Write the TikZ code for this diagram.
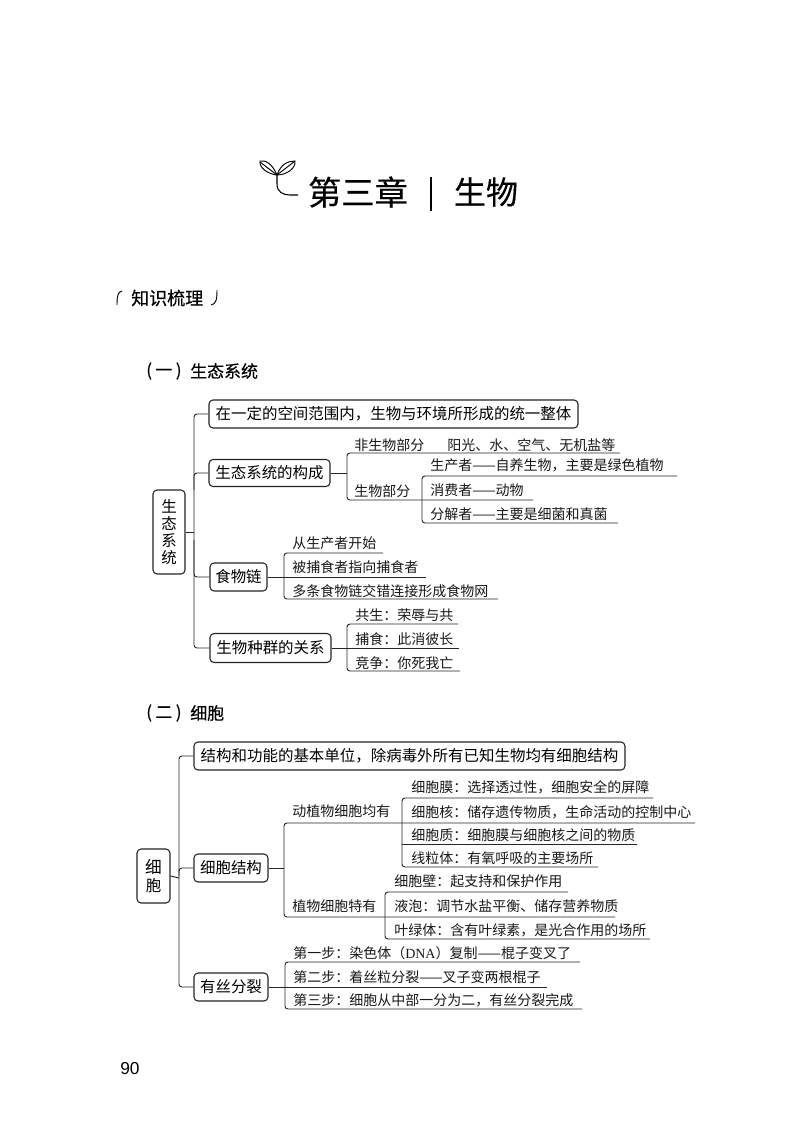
\documentclass[tikz,border=0pt]{standalone}
\usepackage{fontspec}
\setmainfont{Noto Sans CJK SC}
\newfontfamily\numfont{Liberation Sans}
\newfontfamily\serfont{Liberation Serif}
\newfontfamily\hvyfont[FakeBold=0.35]{Noto Sans CJK SC}
\tikzset{
  x=0.75pt,y=-0.75pt,
  conn/.style={line width=0.7pt,black!85},
  rnd/.style={conn,rounded corners=2.2pt},
  bx/.style 2 args={draw=black!85,line width=0.8pt,rounded corners=3pt,inner sep=0pt,align=center,
     minimum width=#1*0.75pt,minimum height=#2*0.75pt,font=\fontsize{11.6}{12.6}\selectfont},
  lab/.style={anchor=west,inner sep=0pt,font=\fontsize{10.5}{12}\selectfont,text=black!90},
  head/.style={anchor=west,inner sep=0pt,font=\hvyfont\fontsize{12.7}{14}\selectfont},
}
\begin{document}
\begin{tikzpicture}
\useasboundingbox (0,0) rectangle (800,1129);
\fill[white] (0,0) rectangle (800,1129);

% ---- title
\node[inner sep=0pt,font=\hvyfont\fontsize{25}{27}\selectfont] (ti1) at (358,192) {第三章};
\node[inner sep=0pt,font=\hvyfont\fontsize{24}{27}\selectfont] (ti2) at (486,192) {生物};
\draw[line width=1.1pt] (431,177) -- (431,211);
% sprout
\draw[line width=0.7pt] (277,175) .. controls (272,163) and (265,160) .. (260,161) .. controls (259,168) and (268,174) .. (277,175)
   .. controls (281,164) and (288,161) .. (295,161) .. controls (296,168) and (287,175) .. (277,175);
\draw[line width=0.7pt] (260,162) -- (277,175) -- (295,161);
\draw[line width=0.8pt] (277,175) -- (277,184) .. controls (277,192) and (283,195) .. (290,195) -- (298,195);

% ---- section heads
\node[head,font=\hvyfont\fontsize{13.5}{15}\selectfont] (kn) at (131,298) {知识梳理};
\draw[line width=0.7pt] (122,291) .. controls (118,292) and (117,295) .. (117,305);
\draw[line width=0.7pt] (217,290) .. controls (217,300) and (216,304) .. (211,305);
\node[head] (s1a) at (146,371) {(\kern2.6pt一\kern2.6pt)};
\node[head] (s1b) at (190,371) {生态系统};
\node[head] (s2a) at (146,713) {(\kern2.6pt二\kern2.6pt)};
\node[head] (s2b) at (190,713) {细胞};
\node[inner sep=0pt,anchor=west,font=\numfont\fontsize{13}{14}\selectfont] (pg) at (120,1069) {90};

% ---- part one boxes
\node[bx={32}{84}] (r1) at (169,532) {生\\态\\系\\统};
\node[bx={369}{28}] (a1) at (393.5,414) {在一定的空间范围内，生物与环境所形成的统一整体};
\node[bx={121}{27}] (a2) at (269.5,473) {生态系统的构成};
\node[bx={57}{28}] (a3) at (238.5,577) {食物链};
\node[bx={121}{29}] (a4) at (270.5,648) {生物种群的关系};

\coordinate (t1) at (194,532);
\draw[rnd] (a1.west) -| (t1) |- (a4.west);
\draw[conn] (r1.east) -- (t1);
\draw[rnd] (194,490) |- (a2.west);
\draw[rnd] (194,540) |- (a3.west);

% non-living / living
\node[lab] at (354,445) {非生物部分};
\node[lab] at (447,445) {阳光、水、空气、无机盐等};
\node[lab] at (354,491) {生物部分};
\node[lab] at (430,465) {生产者——自养生物，主要是绿色植物};
\node[lab] at (430,490) {消费者——动物};
\node[lab] at (430,514) {分解者——主要是细菌和真菌};
\coordinate (b1) at (347,473);
\coordinate (b1t) at (620,453);
\coordinate (b1b) at (533,500);
\draw[conn] (a2.east) -- (b1);
\draw[rnd] (b1t) -| (b1) |- (b1b);
\coordinate (b2) at (422,500);
\coordinate (b2t) at (677,476);
\coordinate (b2b) at (618,523);
\draw[rnd] (b2t) -| (b2) |- (b2b);

% food chain
\node[lab] at (292,543) {从生产者开始};
\node[lab] at (292,567) {被捕食者指向捕食者};
\node[lab] at (292,591) {多条食物链交错连接形成食物网};
\coordinate (b3) at (284,577);
\coordinate (b3t) at (383,553);
\coordinate (b3m) at (426,577);
\coordinate (b3b) at (498,599);
\draw[conn] (a3.east) -- (b3m);
\draw[rnd] (b3t) -| (b3) |- (b3b);

% relations
\node[lab] at (355,615) {共生：荣辱与共};
\node[lab] at (355,639) {捕食：此消彼长};
\node[lab] at (355,663) {竞争：你死我亡};
\coordinate (b4) at (347,648);
\coordinate (b4t) at (458,624);
\coordinate (b4m) at (459,648);
\coordinate (b4b) at (460,671);
\draw[conn] (a4.east) -- (b4m);
\draw[rnd] (b4t) -| (b4) |- (b4b);

% ---- part two boxes
\node[bx={33}{54}] (r2) at (153.5,876) {\fontsize{12.5}{14}\selectfont 细\\[1pt]胞};
\node[bx={431}{28}] (c1) at (409.5,756) {结构和功能的基本单位，除病毒外所有已知生物均有细胞结构};
\node[bx={74}{28}] (c2) at (231,868) {细胞结构};
\node[bx={74}{28}] (c3) at (231,987) {有丝分裂};

\coordinate (t2) at (179,878);
\draw[rnd] (c1.west) -| (t2) |- (c3.west);
\draw[conn] (r2.east) -- (t2);
\draw[rnd] (179,876) |- (c2.west);

\node[lab] at (292,811) {动植物细胞均有};
\node[lab] at (292,906) {植物细胞特有};
\coordinate (d1) at (284,868);
\coordinate (d1t) at (695,823);
\coordinate (d1b) at (615,917);
\draw[conn] (c2.east) -- (d1);
\draw[rnd] (d1t) -| (d1) |- (d1b);

\node[lab] at (411,787) {细胞膜：选择透过性，细胞安全的屏障};
\node[lab] at (411,812) {细胞核：储存遗传物质，生命活动的控制中心};
\node[lab] at (411,835) {细胞质：细胞膜与细胞核之间的物质};
\node[lab] at (411,858) {线粒体：有氧呼吸的主要场所};
\coordinate (d2) at (402,823);
\coordinate (d2t) at (653,798);
\coordinate (d2m) at (637,844);
\coordinate (d2b) at (598,867);
\draw[rnd] (d2t) -| (d2) |- (d2b);
\draw[conn] (d2 |- d2m) -- (d2m);

\node[lab] at (394,881) {细胞壁：起支持和保护作用};
\node[lab] at (394,906) {液泡：调节水盐平衡、储存营养物质};
\node[lab] at (394,930) {叶绿体：含有叶绿素，是光合作用的场所};
\coordinate (d3) at (385,917);
\coordinate (d3t) at (568,892);
\coordinate (d3b) at (650,939);
\draw[rnd] (d3t) -| (d3) |- (d3b);

\node[lab] at (293,953) {第一步：染色体（{\serfont DNA}）复制——棍子变叉了};
\node[lab] at (293,977) {第二步：着丝粒分裂——叉子变两根棍子};
\node[lab] at (293,1000) {第三步：细胞从中部一分为二，有丝分裂完成};
\coordinate (d4) at (285,987);
\coordinate (d4t) at (580,962);
\coordinate (d4m) at (547,987);
\coordinate (d4b) at (582,1009);
\draw[conn] (c3.east) -- (d4m);
\draw[rnd] (d4t) -| (d4) |- (d4b);
\end{tikzpicture}
\end{document}
